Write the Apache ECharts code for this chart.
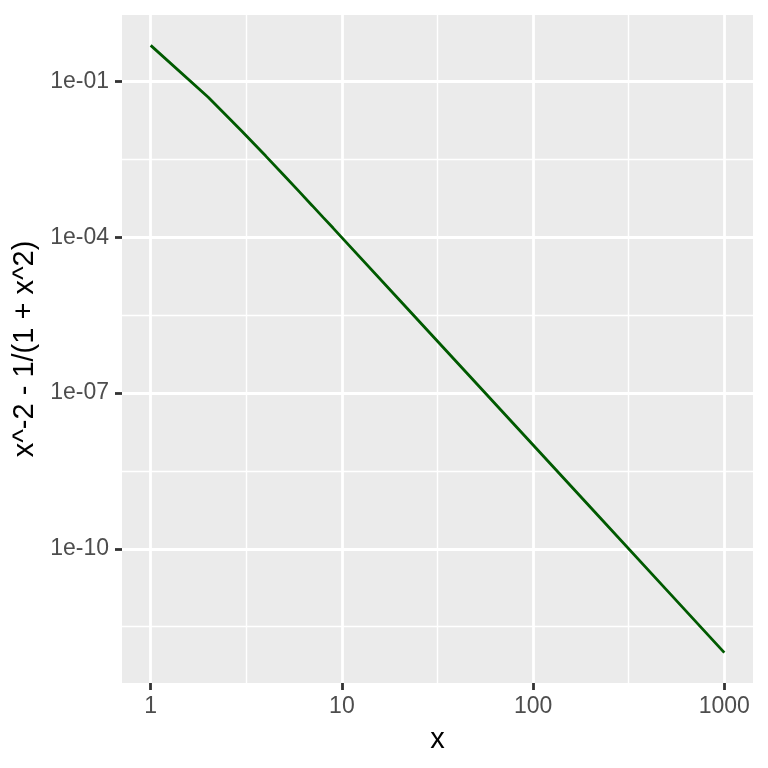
<!DOCTYPE html>
<html>
<head>
<meta charset="utf-8">
<script src="https://cdn.jsdelivr.net/npm/echarts@6/dist/echarts.min.js"></script>
<style>html,body{margin:0;padding:0;background:#fff}#c{width:768px;height:768px}</style>
</head>
<body>
<div id="c"></div>
<script>
// Data (x, y = x^-2 - 1/(1+x^2))
const xValues = [1, 2, 3, 4, 5, 6, 7, 8, 9, 10, 20, 50, 100, 200, 500, 1000];
const yValues = [0.5, 0.05, 0.0111, 0.00368, 0.00154, 0.000751, 0.000408, 0.00024, 0.000151, 0.000099,
                 6.23e-6, 1.6e-7, 1.0e-8, 6.25e-10, 1.6e-11, 1.0e-12];
// Tick positions (log10 units) and labels
const xMajorTicks = [0, 1, 2, 3];
const xTickLabels = ['1', '10', '100', '1000'];
const xMinorTicks = [0.5, 1.5, 2.5];
const yMajorTicks = [-1, -4, -7, -10];
const yTickLabels = ['1e-01', '1e-04', '1e-07', '1e-10'];
const yMinorTicks = [-2.5, -5.5, -8.5, -11.5];

const lx = xValues.map(v => Math.log10(v));
const ly = yValues.map(v => Math.log10(v));
const xmin = Math.min(...lx), xmax = Math.max(...lx);
const ymin = Math.min(...ly), ymax = Math.max(...ly);
const xpad = (xmax - xmin) * 0.05, ypad = (ymax - ymin) * 0.05;

const FONT = 'Liberation Sans, Arial, sans-serif';
const chart = echarts.init(document.getElementById('c'));
const minorLines = xMinorTicks.map(v => ({xAxis: v})).concat(yMinorTicks.map(v => ({yAxis: v})));
chart.setOption({
  animation: false,
  grid: {left: 122, right: 15, top: 15, bottom: 85, show: true, backgroundColor: '#EBEBEB', borderWidth: 0},
  xAxis: {
    type: 'value', min: xmin - xpad, max: xmax + xpad,
    name: 'x', nameLocation: 'middle', nameGap: 42,
    nameTextStyle: {color: '#000', fontSize: 29, fontFamily: FONT},
    axisLine: {show: false, onZero: false},
    axisTick: {show: true, length: 7, lineStyle: {color: '#333', width: 2.8}, customValues: xMajorTicks},
    axisLabel: {customValues: xMajorTicks, margin: 12, color: '#4D4D4D', fontSize: 23, fontFamily: FONT,
      formatter: v => xTickLabels[xMajorTicks.findIndex(t => Math.abs(t - v) < 1e-9)] ?? ''},
    splitLine: {show: true, lineStyle: {color: '#fff', width: 2.8}}
  },
  yAxis: {
    type: 'value', min: ymin - ypad, max: ymax + ypad,
    name: 'x^-2 - 1/(1 + x^2)', nameLocation: 'middle', nameGap: 78,
    nameTextStyle: {color: '#000', fontSize: 29, fontFamily: FONT},
    axisLine: {show: false, onZero: false},
    axisTick: {show: true, length: 7, lineStyle: {color: '#333', width: 2.8}, customValues: yMajorTicks},
    axisLabel: {customValues: yMajorTicks, margin: 13, color: '#4D4D4D', fontSize: 23, fontFamily: FONT,
      formatter: v => yTickLabels[yMajorTicks.findIndex(t => Math.abs(t - v) < 1e-9)] ?? ''},
    splitLine: {show: true, lineStyle: {color: '#fff', width: 2.8}}
  },
  series: [
    {
      type: 'line', data: [], z: 1, silent: true,
      markLine: {silent: true, symbol: 'none', label: {show: false}, animation: false,
        lineStyle: {color: '#fff', width: 1.4, type: 'solid'}, data: minorLines}
    },
    {
      type: 'line', z: 5, showSymbol: false, symbol: 'none',
      data: lx.map((x, i) => [x, ly[i]]),
      lineStyle: {color: '#005A00', width: 2.8}
    }
  ]
});
</script>
</body>
</html>
